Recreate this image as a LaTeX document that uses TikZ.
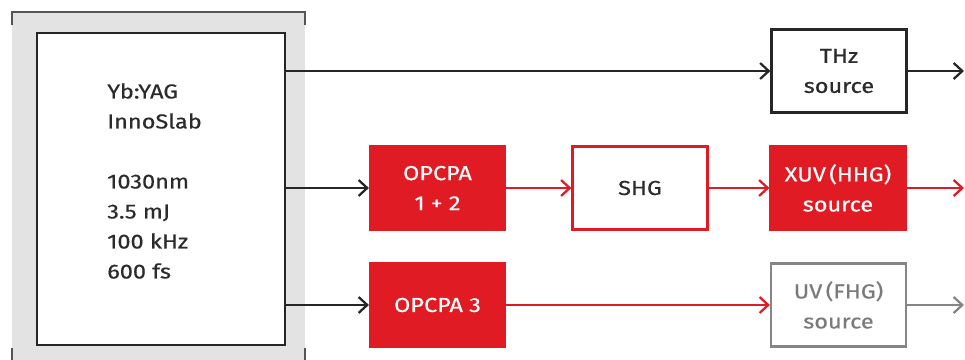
\documentclass[tikz,border=0pt]{standalone}
\usepackage{fontspec}
\setmainfont{Fira Sans}[FakeStretch=1.16, FakeBold=0.5]
\usetikzlibrary{arrows.meta}
\definecolor{cred}{HTML}{E01B24}
\definecolor{ctext}{HTML}{2B2B2B}
\definecolor{cgrayline}{HTML}{858585}
\definecolor{cgraytext}{HTML}{7A7A7A}
\definecolor{cpanel}{HTML}{E3E3E3}
\definecolor{cpanelline}{HTML}{555555}
\tikzset{
  every node/.style={font=\fontsize{15.2pt}{22.5pt}\selectfont, text=ctext},
  box/.style={draw, line width=1.9pt, inner sep=0pt, align=center, minimum width=101pt, minimum height=62pt},
  blackbox/.style={box, draw=black!85, fill=white},
  redbox/.style={box, draw=cred, fill=cred, text=white},
  redframe/.style={box, draw=cred, fill=white},
  graybox/.style={box, draw=cgrayline, fill=white, text=cgraytext},
  tipbarb/.style={-{Straight Barb[length=6.5pt,width=12pt,line width=1.7pt]}},
  blk/.style={tipbarb, line width=1.8pt, draw=black!85},
  redarr/.style={tipbarb, line width=1.8pt, draw=cred},
  grayarr/.style={tipbarb, line width=1.8pt, draw=cgrayline},
}
\begin{document}
\begin{tikzpicture}[x=0.75pt, y=-0.75pt]
\useasboundingbox (0,0) rectangle (965,360);
% grey panel
\fill[cpanel] (12,12) rectangle (305,360);
\draw[cpanelline, line width=1.3pt] (12,25) -- (12,12) -- (305,12) -- (305,25);
\draw[cpanelline, line width=1.3pt] (12,348) -- (12,360);
\draw[cpanelline, line width=1.3pt] (305,348) -- (305,360);
% laser
\node[blackbox, minimum width=186pt, minimum height=234pt] (laser) at (161,189) {};
\node[anchor=north west, inner sep=0pt, align=left] (spec) at (107,83)
  {Yb:YAG\\InnoSlab\\[22.5pt]1030nm\\3.5 mJ\\100 kHz\\600 fs};
% boxes
\node[blackbox] (thz) at (839,71) {THz\\source};
\node[redbox] (op12) at (437.5,188) {OPCPA\\1 + 2};
\node[redframe] (shg) at (640,188) {SHG};
\node[redbox] (xuv) at (838,188) {XUV\,(HHG)\\source};
\node[redbox] (op3) at (437.5,305) {OPCPA 3};
\node[graybox] (uv) at (838.5,305) {UV\,(FHG)\\source};
\coordinate (out1) at (964,71);
\coordinate (out2) at (964,188);
\coordinate (out3) at (964,305);
% connectors
\draw[blk] (laser.east |- thz.west) -- (thz.west);
\draw[blk] (thz.east) -- (out1);
\draw[blk] (laser.east |- op12.west) -- (op12.west);
\draw[redarr] (op12.east) -- (shg.west);
\draw[redarr] (shg.east) -- (xuv.west);
\draw[redarr] (xuv.east) -- (out2);
\draw[blk] (laser.east |- op3.west) -- (op3.west);
\draw[redarr] (op3.east) -- (uv.west);
\draw[grayarr] (uv.east) -- (out3);
\end{tikzpicture}
\end{document}
